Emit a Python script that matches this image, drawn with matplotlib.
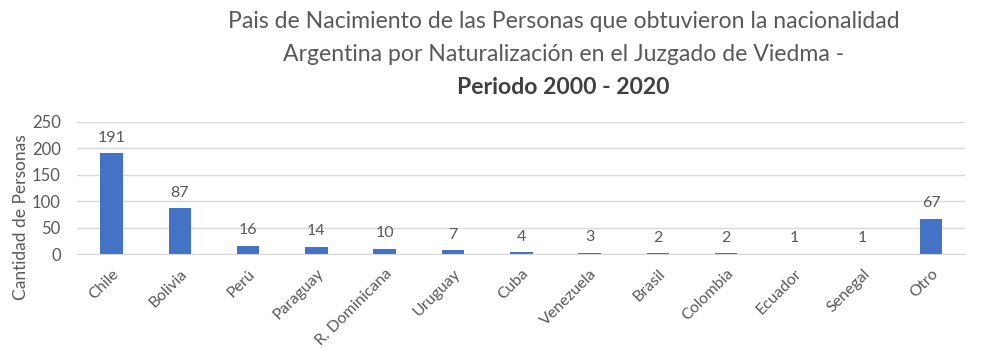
import matplotlib.pyplot as plt
import numpy as np

plt.rcParams['font.family'] = ['Lato', 'DejaVu Sans']

paises = ['Chile', 'Bolivia', 'Perú', 'Paraguay', 'R. Dominicana', 'Uruguay', 'Cuba',
          'Venezuela', 'Brasil', 'Colombia', 'Ecuador', 'Senegal', 'Otro']
personas = [191, 87, 16, 14, 10, 7, 4, 3, 2, 2, 1, 1, 67]
yticks = [0, 50, 100, 150, 200, 250]

gris = '#595959'
azul = '#4472C4'

fig = plt.figure(figsize=(9.92, 3.5), dpi=100)
ax = fig.add_axes([0.078, 0.274, 0.895, 0.378])

x = np.arange(len(paises))
ax.bar(x, personas, width=0.33, color=azul, zorder=3)
for xi, v in zip(x, personas):
    ax.text(xi, v + 16, str(v), ha='center', va='bottom', fontsize=11.5, color=gris)

ax.set_xlim(-0.5, len(paises) - 0.5)
ax.set_ylim(0, 250)
ax.set_yticks(yticks)
ax.grid(axis='y', color='#d9d9d9', linewidth=1, zorder=0)
ax.set_xticks(x)
ax.set_xticklabels(paises, rotation=45, ha='right', rotation_mode='anchor',
                   fontsize=11.5, color=gris)
ax.tick_params(axis='y', labelsize=12, colors=gris, length=0, pad=12)
ax.tick_params(axis='x', length=0, pad=9)
for s in ax.spines.values():
    s.set_visible(False)
ax.spines['bottom'].set_visible(True)
ax.spines['bottom'].set_color('#d9d9d9')

ax.set_ylabel('Cantidad de Personas', fontsize=12.5, color=gris)
ax.yaxis.set_label_coords(-0.055, 0.28)

fig.text(0.568, 0.94, 'Pais de Nacimiento de las Personas que obtuvieron la nacionalidad',
         ha='center', va='center', fontsize=16.6, color=gris)
fig.text(0.568, 0.843, 'Argentina por Naturalización en el Juzgado de Viedma -',
         ha='center', va='center', fontsize=16.6, color=gris)
fig.text(0.568, 0.75, 'Periodo 2000 - 2020', ha='center', va='center',
         fontsize=16.6, fontweight='bold', color='#404040')

fig.savefig('out.png', dpi=100)
